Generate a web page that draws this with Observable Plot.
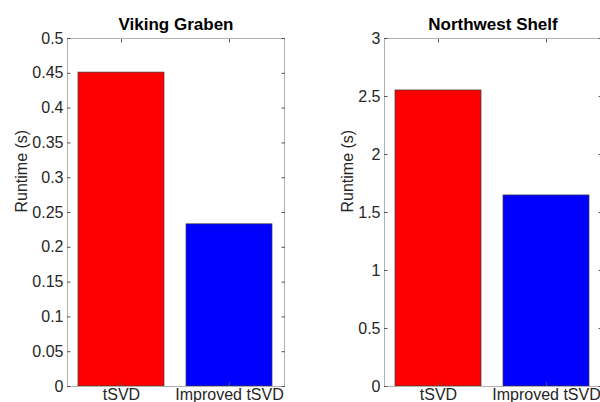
<!DOCTYPE html>
<html>
<head>
<meta charset="utf-8">
<script src="https://cdn.jsdelivr.net/npm/d3@7"></script>
<script src="https://cdn.jsdelivr.net/npm/@observablehq/plot@0.6"></script>
<style>
  html, body { margin: 0; padding: 0; background: #fff; }
  #wrap { position: relative; width: 600px; height: 402px; overflow: hidden; background: #fff; }
  #left, #right { position: absolute; top: 0; }
  #left { left: 0; width: 300px; }
  #right { left: 300px; width: 310px; }
  #wrap svg { max-width: none !important; display: block; }
</style>
</head>
<body>
<div id="wrap"><div id="left"></div><div id="right"></div></div>
<script>
const methods = ["tSVD", "Improved tSVD"];
const barColors = ["#ff0000", "#0000ff"];
const vikingRuntime = [0.451, 0.233];
const shelfRuntime = [2.552, 1.647];
const vikingTicks = [0, 0.05, 0.1, 0.15, 0.2, 0.25, 0.3, 0.35, 0.4, 0.45, 0.5];
const shelfTicks = [0, 0.5, 1, 1.5, 2, 2.5, 3];
const titles = ["Viking Graben", "Northwest Shelf"];
const yLabel = "Runtime (s)";

const FONT = "Liberation Sans, Arial, Helvetica, sans-serif";
const TXT = "#262626";
const TICK = "#555";

function panel({title, values, ticks, ymax, width, marginLeft, marginRight, labelDx}) {
  const data = methods.map((m, i) => ({method: m, runtime: values[i], color: barColors[i]}));
  const blank = () => "";
  return Plot.plot({
    width, height: 402,
    marginLeft, marginRight, marginTop: 38, marginBottom: 16,
    style: {fontFamily: FONT, fontSize: "16px", color: TXT, background: "#fff", overflow: "visible", maxWidth: "none"},
    x: {type: "band", domain: methods, paddingInner: 0.2, paddingOuter: 0.1},
    y: {domain: [0, ymax]},
    marks: [
      Plot.barY(data, {x: "method", y: "runtime", fill: "color", stroke: "#3a3a3a", strokeWidth: 0.7}),
      Plot.frame({stroke: "#b0b0b0", strokeWidth: 1}),
      Plot.axisY({ticks, tickSize: -3.5, tickFormat: blank, stroke: TICK, label: null}),
      Plot.axisY({anchor: "right", ticks, tickSize: -3.5, tickFormat: blank, stroke: TICK, label: null}),
      Plot.axisX({anchor: "top", tickSize: -3.5, tickFormat: blank, stroke: TICK, label: null}),
      Plot.axisX({anchor: "bottom", tickSize: -3.5, tickFormat: blank, stroke: TICK, label: null}),
      Plot.text(ticks, {y: d => d, frameAnchor: "left", dx: -4, textAnchor: "end", lineAnchor: "middle",
        text: d => String(d), fontSize: 16, fill: TXT}),
      Plot.text(methods, {x: d => d, frameAnchor: "bottom", dy: 2, lineAnchor: "top",
        text: d => d, fontSize: 16, fill: TXT}),
      Plot.text([title], {frameAnchor: "top", dy: -14, lineAnchor: "middle", text: d => d, fontWeight: "bold", fontSize: 17, fill: "#000"}),
      Plot.text([yLabel], {frameAnchor: "left", dx: labelDx, rotate: -90, text: d => d, fontSize: 16, fill: TXT})
    ]
  });
}

document.getElementById("left").append(panel({
  title: titles[0], values: vikingRuntime, ticks: vikingTicks, ymax: 0.5,
  width: 300, marginLeft: 67, marginRight: 16, labelDx: -46
}));
document.getElementById("right").append(panel({
  title: titles[1], values: shelfRuntime, ticks: shelfTicks, ymax: 3,
  width: 310, marginLeft: 84, marginRight: 9, labelDx: -37
}));
</script>
</body>
</html>
